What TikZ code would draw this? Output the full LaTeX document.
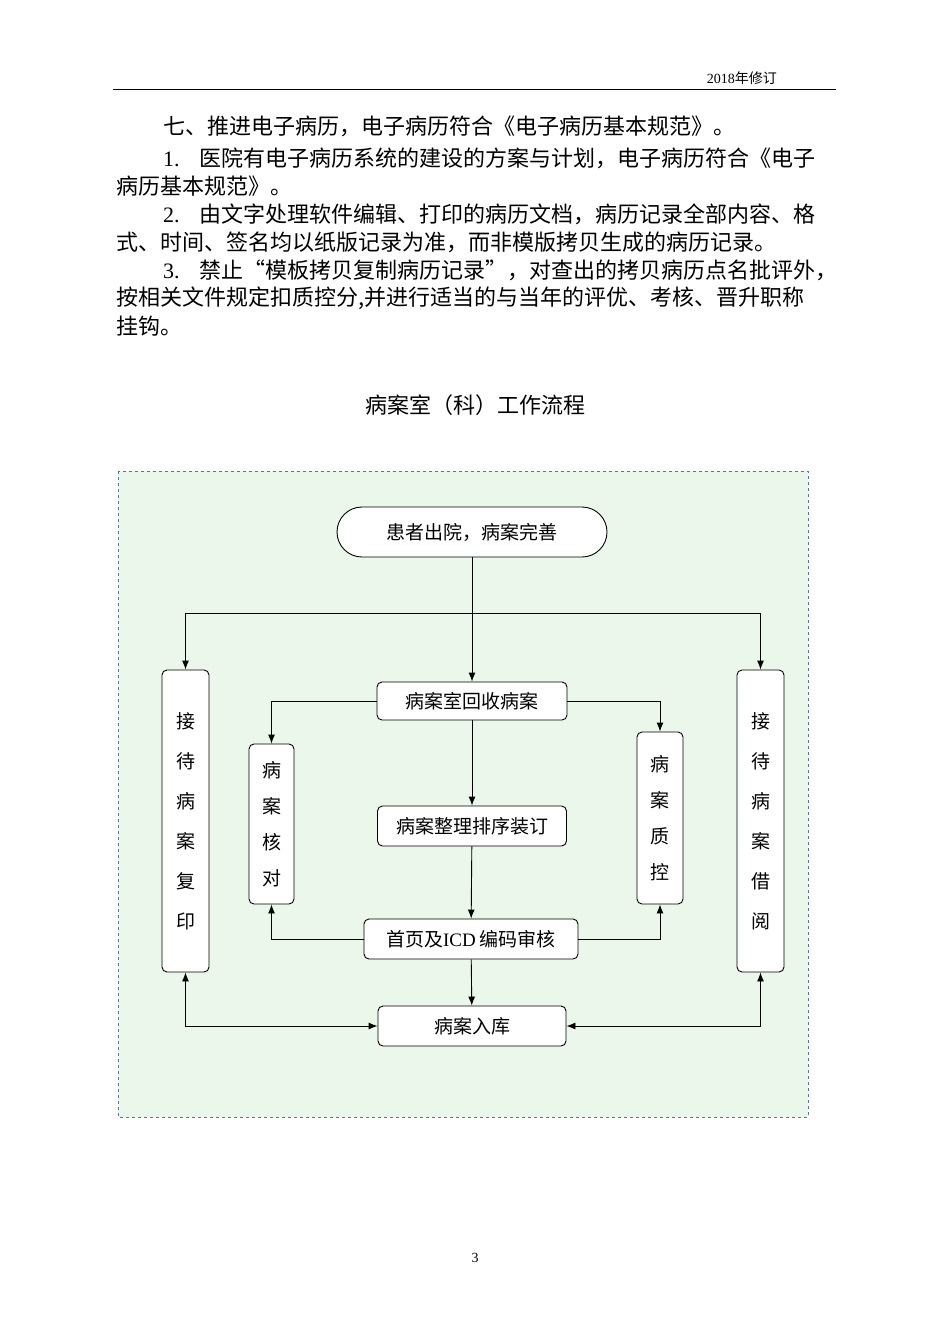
\documentclass[tikz,border=0pt]{standalone}
\usepackage{fontspec}
\setmainfont{Liberation Serif}
\newfontfamily\cjk{Noto Sans CJK SC}
\usetikzlibrary{arrows.meta}
\begin{document}
\begin{tikzpicture}[x=1pt,y=-1pt,
  body/.style={anchor=west,inner sep=0pt,font=\fontsize{22}{22}\selectfont\cjk},
  box/.style={draw,rounded corners=5pt,fill=white,line width=0.9pt,font=\fontsize{19}{19}\selectfont\cjk,inner sep=0pt},
  vbox/.style={box,align=center,font=\fontsize{19}{40}\selectfont\cjk},
  vbox2/.style={box,align=center,font=\fontsize{19}{36}\selectfont\cjk},
  arr/.style={-{Latex[length=9pt,width=7pt]},line width=0.9pt},
  darr/.style={{Latex[length=9pt,width=7pt]}-{Latex[length=9pt,width=7pt]},line width=0.9pt}]
\useasboundingbox (0,0) rectangle (950,1344);
\fill[white] (0,0) rectangle (950,1344);
% header
\node[anchor=east,inner sep=0pt,font=\fontsize{14}{14}\selectfont] (hdr) at (777,78) {2018{\cjk 年修订}};
\draw[line width=0.8pt] (113,89) -- (836,89);
% paragraphs
\node[body] (p1) at (163,126) {七、推进电子病历，电子病历符合《电子病历基本规范》。};
\node[body] (p2) at (163,158) {\rmfamily 1.\hspace{20pt}\cjk 医院有电子病历系统的建设的方案与计划，电子病历符合《电子};
\node[body] (p3) at (116,186) {病历基本规范》。};
\node[body] (p4) at (163,214) {\rmfamily 2.\hspace{20pt}\cjk 由文字处理软件编辑、打印的病历文档，病历记录全部内容、格};
\node[body] (p5) at (116,242) {式、时间、签名均以纸版记录为准，而非模版拷贝生成的病历记录。};
\node[body] (p6) at (163,270) {\rmfamily 3.\hspace{20pt}\cjk 禁止“模板拷贝复制病历记录”，对查出的拷贝病历点名批评外，};
\node[body] (p7) at (116,298) {按相关文件规定扣质控分,并进行适当的与当年的评优、考核、晋升职称};
\node[body] (p8) at (116,326) {挂钩。};
\node[inner sep=0pt,font=\fontsize{22}{22}\selectfont\cjk] (title) at (475,405) {病案室（科）工作流程};
% frame
\draw[dashed,draw={rgb,255:red,90;green,120;blue,150},fill={rgb,255:red,235;green,247;blue,235},line width=0.8pt] (118,471) rectangle (808,1117);
% nodes
\node[box,rounded corners=25pt,minimum width=270pt,minimum height=50pt] (start) at (472,532) {患者出院，病案完善};
\node[box,minimum width=190pt,minimum height=38pt] (recv) at (472,701) {病案室回收病案};
\node[box,minimum width=189pt,minimum height=40pt] (sort) at (472,826) {病案整理排序装订};
\node[box,minimum width=214pt,minimum height=40pt] (icd) at (471,939) {首页及{\rmfamily ICD} 编码审核};
\node[box,minimum width=188pt,minimum height=40pt] (store) at (472,1026) {病案入库};
\node[vbox,minimum width=47pt,minimum height=302pt] (copy) at (185.5,821) {接\\待\\病\\案\\复\\印};
\node[vbox2,minimum width=45pt,minimum height=160pt] (check) at (271.5,824) {病\\案\\核\\对};
\node[vbox2,minimum width=46pt,minimum height=172pt] (qc) at (660,818) {病\\案\\质\\控};
\node[vbox,minimum width=47pt,minimum height=302pt] (lend) at (760.5,821) {接\\待\\病\\案\\借\\阅};
% connectors
\coordinate (br) at (472,613);
\draw[arr] (start.south) -- (recv.north);
\draw[arr] (br) -| (copy.north);
\draw[arr] (br) -| (lend.north);
\draw[arr] (recv.west) -| (check.north);
\draw[arr] (recv.east) -| (qc.north);
\draw[arr] (recv) -- (sort);
\draw[arr] (sort) -- (icd);
\draw[arr] (icd) -- (store);
\draw[arr] (icd.west) -| (check.south);
\draw[arr] (icd.east) -| (qc.south);
\draw[darr] (copy.south) |- (store.west);
\draw[darr] (lend.south) |- (store.east);
% page number
\node[inner sep=0pt,font=\fontsize{14}{14}\selectfont] (pg) at (475,1258) {3};
\end{tikzpicture}
\end{document}
